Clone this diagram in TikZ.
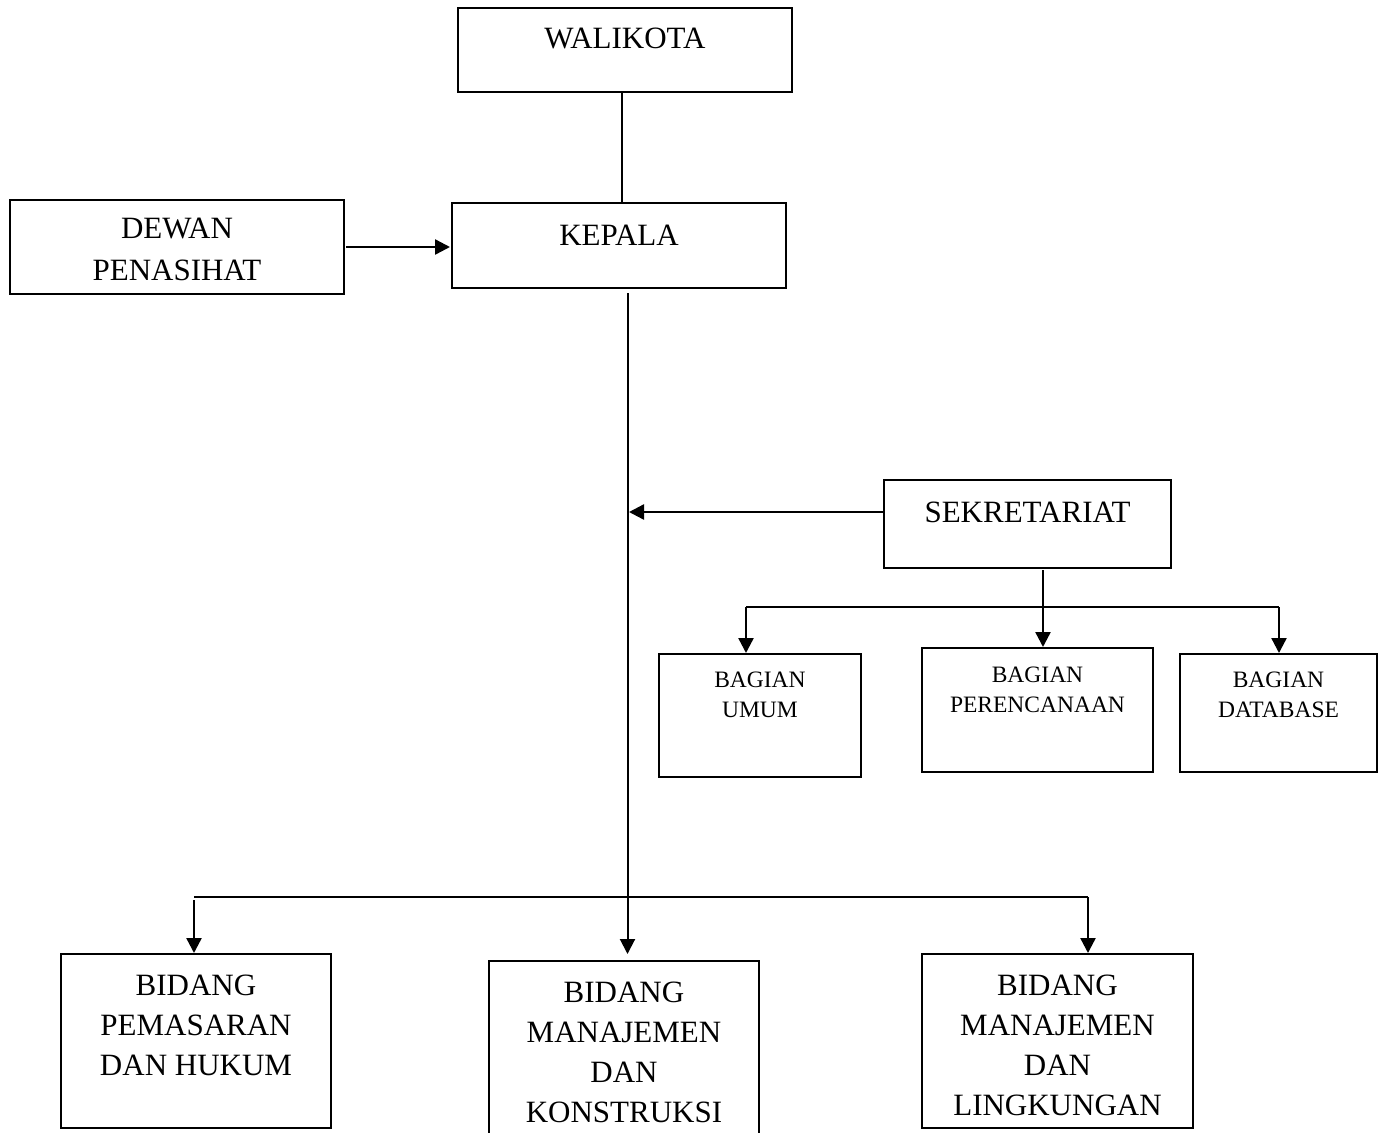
\documentclass[tikz,border=0pt]{standalone}
\usepackage{fontspec}
\setmainfont{Liberation Serif}
\usetikzlibrary{arrows.meta}
\newcommand{\bigtxt}{\fontsize{31}{40}\selectfont}
\newcommand{\smalltxt}{\fontsize{23.5}{29.5}\selectfont}
\begin{document}
\begin{tikzpicture}[x=1pt,y=-1pt,
  boxnode/.style={draw,line width=2pt,inner sep=0pt},
  bigtext/.style={inner sep=0pt,anchor=base,align=center,font=\bigtxt},
  smalltext/.style={inner sep=0pt,anchor=base,align=center,font=\smalltxt},
  conn/.style={line width=2pt},
  arr/.style={line width=2.4pt,-{Triangle[length=15pt,width=15pt]}}]
\useasboundingbox (0,0) rectangle (1385,1133);
\clip (0,0) rectangle (1385,1133);

% boxes
\node[boxnode,minimum width=334pt,minimum height=84pt] (wali) at (625,50) {};
\node[boxnode,minimum width=334pt,minimum height=85pt] (kepala) at (619,245.5) {};
\node[boxnode,minimum width=334pt,minimum height=94pt] (dewan) at (177,247) {};
\node[boxnode,minimum width=287pt,minimum height=88pt] (sekr) at (1027.5,524) {};
\node[boxnode,minimum width=202pt,minimum height=123pt] (umum) at (760,715.5) {};
\node[boxnode,minimum width=231pt,minimum height=124pt] (peren) at (1037.5,710) {};
\node[boxnode,minimum width=197pt,minimum height=118pt] (datab) at (1278.5,713) {};
\node[boxnode,minimum width=270pt,minimum height=174pt] (pemas) at (196,1041) {};
\node[boxnode,minimum width=270pt,minimum height=184pt] (konst) at (624,1053) {};
\node[boxnode,minimum width=271pt,minimum height=174pt] (lingk) at (1057.5,1041) {};

% texts (anchor=base is the baseline of the last line)
\node[bigtext] (waliT) at (625,48) {WALIKOTA};
\node[bigtext] (kepalaT) at (619,245) {KEPALA};
\node[bigtext,font=\fontsize{31}{42}\selectfont] (dewanT) at (177,280) {DEWAN\\PENASIHAT};
\node[bigtext] (sekrT) at (1027.5,522) {SEKRETARIAT};
\node[smalltext] (umumT) at (760,717) {BAGIAN\\UMUM};
\node[smalltext] (perenT) at (1037.5,712) {BAGIAN\\PERENCANAAN};
\node[smalltext] (databT) at (1278.5,717) {BAGIAN\\DATABASE};
\node[bigtext] (pemasT) at (196,1075) {BIDANG\\PEMASARAN\\DAN HUKUM};
\node[bigtext] (konstT) at (624,1122) {BIDANG\\MANAJEMEN\\DAN\\KONSTRUKSI};
\node[bigtext] (lingkT) at (1057.5,1115) {BIDANG\\MANAJEMEN\\DAN\\LINGKUNGAN};

% helper coordinates
\coordinate (wk) at (622,0);
\coordinate (mv) at (627.5,0);
\coordinate (sj) at (629,512);
\coordinate (sd) at (1043,0);
\coordinate (bl) at (746,607);
\coordinate (br) at (1279,607);
\coordinate (cl) at (194,897);
\coordinate (cr) at (1088,897);

% connectors
\draw[conn] (wali.south -| wk) -- (kepala.north -| wk);
\draw[arr,shorten <=1pt,shorten >=1pt] (dewan.east) -- (kepala.west |- dewan.east);
\draw[conn,-{Triangle[length=15pt,width=15pt]},shorten <=4pt,shorten >=6pt] (kepala.south -| mv) -- (konst.north -| mv);
\draw[arr] (sekr.west |- sj) -- (sj);
\draw[arr,shorten <=1pt] (sekr.south -| sd) -- (peren.north -| sd);
\draw[conn] (bl) -- (br);
\draw[arr] (bl) -- (umum.north -| bl);
\draw[arr] (br) -- (datab.north -| br);
\draw[conn] (cl) -- (cr);
\draw[arr] ([yshift=-3pt]cl) -- (pemas.north -| cl);
\draw[arr] (cr) -- (lingk.north -| cr);
\end{tikzpicture}
\end{document}
